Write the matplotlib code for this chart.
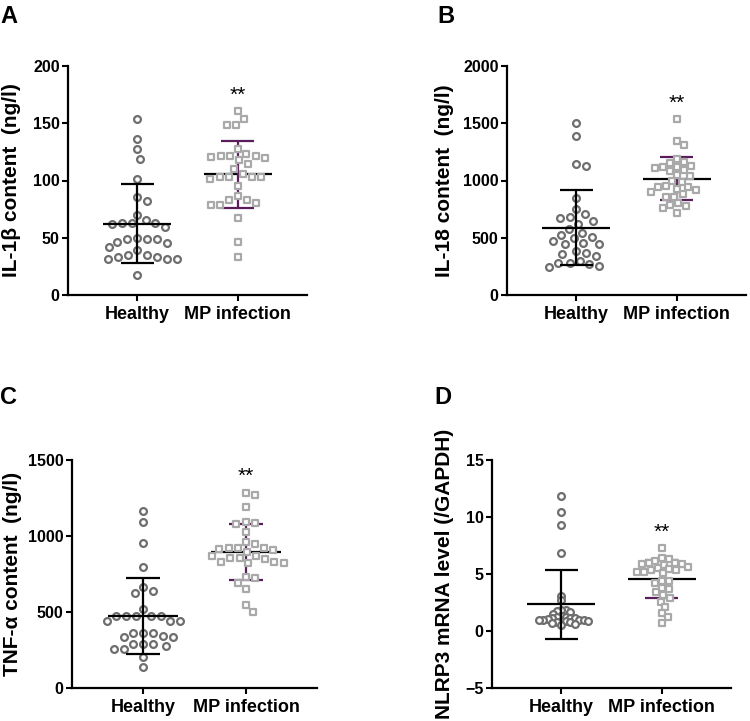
import numpy as np
import matplotlib.pyplot as plt

plt.rcParams['font.family'] = ['Liberation Sans', 'DejaVu Sans']
plt.rcParams['font.weight'] = 'bold'

groups = ['Healthy', 'MP infection']

# values (one list per group)
il1b_healthy = [153.5, 136.6, 127.3, 118.9, 101.2, 85.8, 82.3, 70.3, 65.4, 63, 59.6, 62.5,
                62, 63, 48.8, 46.5, 49.4, 48.8, 48.8, 45.6, 41.6, 39, 35.2, 32.8, 31.4,
                31.4, 31.4, 32.8, 35.2, 17.4]
il1b_mp = [160.5, 154, 148.5, 148.5, 127.3, 123.3, 121.8, 120.3, 117.7, 121.8, 121.8, 119.5,
           114.8, 110.2, 106.1, 102.9, 102.9, 101.5, 102.9, 102.9, 95, 86.3, 82.6, 78.2,
           78.2, 80.5, 83.1, 66.9, 45.9, 32.8]

il18_healthy = [1500, 1389, 1146, 1129, 851, 751, 681, 705, 646, 670, 623, 576, 544, 523, 494,
                456, 442, 447, 471, 509, 383, 360, 339, 371, 278, 272, 243, 251, 278, 301]
il18_mp = [1537, 1345, 1310, 1190, 1160, 1155, 1125, 1120, 1115, 1105, 1090, 1080, 1050, 1040,
           995, 990, 950, 945, 940, 925, 920, 900, 880, 860, 855, 800, 790, 775, 760, 715]

tnf_healthy = [1165, 1095, 957, 799, 663, 624, 635, 519, 471, 471, 471, 471, 473, 438, 438, 438,
               333, 337, 361, 361, 361, 340, 289, 289, 289, 278, 258, 258, 204, 136]
tnf_mp = [1285, 1270, 1189, 1088, 1079, 1094, 1028, 963, 947, 919, 905, 919, 912, 923, 897,
          868, 857, 831, 822, 822, 831, 846, 853, 868, 721, 728, 689, 649, 546, 502]

nlrp3_healthy = [11.8, 10.45, 9.34, 6.8, 3.1, 2.7, 1.8, 1.8, 1.75, 1.7, 1.5, 1.3, 1.25, 1.2,
                 1.15, 1.1, 1.1, 1.05, 1.0, 1.0, 0.95, 0.95, 0.9, 0.9, 0.85, 0.8, 0.75, 0.7,
                 0.6, 0.5]
nlrp3_mp = [7.24, 6.36, 6.28, 6.13, 5.93, 5.87, 5.93, 5.78, 5.87, 5.49, 5.58, 5.34, 5.2, 5.1,
            5.2, 5.34, 5.4, 4.4, 4.4, 4.18, 3.74, 3.65, 3.45, 3.15, 2.57, 2.07, 1.55, 1.26,
            0.73, 2.9]

panel_letters = ['A', 'B', 'C', 'D']
ylabels = ['IL-1\u03b2 content  (ng/l)', 'IL-18 content  (ng/l)',
           'TNF-\u03b1 content  (ng/l)', 'NLRP3 mRNA level (/GAPDH)']
yticks = [[0, 50, 100, 150, 200], [0, 500, 1000, 1500, 2000],
          [0, 500, 1000, 1500], [-5, 0, 5, 10, 15]]
healthy_data = [il1b_healthy, il18_healthy, tnf_healthy, nlrp3_healthy]
mp_data = [il1b_mp, il18_mp, tnf_mp, nlrp3_mp]

W, H = 750, 721
fig = plt.figure(figsize=(W / 100, H / 100), dpi=100)

# axes boxes in pixels: left, top, right, bottom
boxes = [(68, 66, 307, 295), (507, 66, 746, 295), (72, 460, 317, 688), (492, 460, 731, 688)]
label_x = [2, 435, 3, 435]
letter_pos = [(0, 5), (437, 5), (0, 386), (434, 386)]
# minimum centre spacing (px) of the swarm in each panel
gaps_healthy = [10.0, 10.0, 10.0, 4.5]
gaps_mp = [9.5, 8.0, 9.5, 6.8]

circ_col = '#6e6e6e'
sq_col = '#a9a9a9'
purple = '#5a1c5a'


def swarm_x(ax, xc, values, gap):
    # simple greedy beeswarm, worked out in pixel space
    pts = ax.transData.transform(np.column_stack([np.full(len(values), xc), values]))
    cand = np.arange(0, 80, 0.5)
    cand = np.concatenate([[0], np.ravel(np.column_stack([cand[1:], -cand[1:]]))])
    placed = []
    out = np.empty(len(values))
    for i in np.argsort(values)[::-1]:
        x0, y0 = pts[i]
        for dx in cand:
            if all((x0 + dx - px) ** 2 + (y0 - py) ** 2 >= gap ** 2 for px, py in placed):
                break
        placed.append((x0 + dx, y0))
        out[i] = ax.transData.inverted().transform((x0 + dx, y0))[0]
    return out


for k in range(4):
    l, t, r, b = boxes[k]
    ax = fig.add_axes([l / W, 1 - b / H, (r - l) / W, (b - t) / H])
    ax.set_xlim(-0.69, 1.69)
    ax.set_ylim(yticks[k][0], yticks[k][-1])
    ax.set_yticks(yticks[k])
    ax.set_xticks([0, 1])
    ax.set_xticklabels(groups, fontsize=13, fontweight='bold')
    ax.tick_params(axis='y', labelsize=11.5, width=1.5, length=4, pad=2)
    ax.tick_params(axis='x', width=1.5, length=4, pad=4)
    for s in ['top', 'right']:
        ax.spines[s].set_visible(False)
    for s in ['left', 'bottom']:
        ax.spines[s].set_linewidth(1.6)

    hv = np.array(healthy_data[k])
    mv = np.array(mp_data[k])

    # healthy: circles under black mean/SD bars
    hx = swarm_x(ax, 0, hv, gaps_healthy[k])
    ax.scatter(hx, hv, s=24, marker='o', facecolors='white', edgecolors=circ_col,
               linewidths=1.6, zorder=2, clip_on=False)
    m, sd = hv.mean(), hv.std(ddof=1)
    ax.hlines(m, -0.34, 0.34, color='black', lw=1.6, zorder=3)
    ax.vlines(0, m - sd, m + sd, color='black', lw=1.6, zorder=3)
    ax.hlines([m - sd, m + sd], -0.165, 0.165, color='black', lw=1.6, zorder=3)

    # MP infection: squares over purple SD bars
    mx = swarm_x(ax, 1, mv, gaps_mp[k])
    m, sd = mv.mean(), mv.std(ddof=1)
    ax.hlines(m, 0.66, 1.34, color='black', lw=1.6, zorder=2)
    ax.vlines(1, m - sd, m + sd, color=purple, lw=1.6, zorder=2)
    ax.hlines([m - sd, m + sd], 0.835, 1.165, color=purple, lw=1.6, zorder=2)
    ax.scatter(mx, mv, s=24, marker='s', facecolors='white', edgecolors=sq_col,
               linewidths=1.6, zorder=3, clip_on=False)

    rng = yticks[k][-1] - yticks[k][0]
    ax.text(1, mv.max() + 0.07 * rng, '**', ha='center', va='center', fontsize=15,
            fontweight='normal')

    fig.text(label_x[k] / W, 1 - ((t + b) / 2) / H, ylabels[k], rotation=90,
             ha='left', va='center', fontsize=15, fontweight='bold')
    lx, ly = letter_pos[k]
    fig.text(lx / W, 1 - ly / H, panel_letters[k], ha='left', va='top',
             fontsize=17, fontweight='bold')

fig.savefig('out.png', dpi=100)
